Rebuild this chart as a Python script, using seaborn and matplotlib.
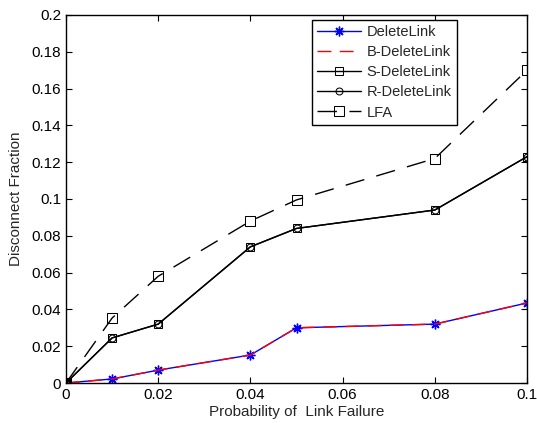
import numpy as np
import pandas as pd
import matplotlib
matplotlib.use("Agg")
import matplotlib.pyplot as plt
import seaborn as sns

x_vals = [0, 0.01, 0.02, 0.04, 0.05, 0.08, 0.1]
delete_link = [0, 0.0022, 0.007, 0.0152, 0.030, 0.032, 0.0435]
b_delete_link = [0, 0.0022, 0.007, 0.0152, 0.030, 0.032, 0.0435]
s_delete_link = [0, 0.0245, 0.032, 0.074, 0.084, 0.094, 0.123]
r_delete_link = [0, 0.0245, 0.032, 0.074, 0.084, 0.094, 0.123]
lfa = [0, 0.0353, 0.058, 0.088, 0.0995, 0.122, 0.170]

x_ticks = [0, 0.02, 0.04, 0.06, 0.08, 0.1]
x_tick_labels = ["0", "0.02", "0.04", "0.06", "0.08", "0.1"]
y_ticks = [0, 0.02, 0.04, 0.06, 0.08, 0.1, 0.12, 0.14, 0.16, 0.18, 0.2]
y_tick_labels = ["0", "0.02", "0.04", "0.06", "0.08", "0.1", "0.12", "0.14", "0.16", "0.18", "0.2"]

sns.set_style("ticks")
plt.rcParams['font.family'] = ['Liberation Sans', 'DejaVu Sans']

fig = plt.figure(figsize=(5.37, 4.23), dpi=100)
ax = fig.add_axes([66/537, 1-383/423, 461/537, 368/423])

styles = [
    ("DeleteLink", delete_link, dict(color="blue", marker=(8, 2, 0), markersize=7, linestyle="-", mfc="blue", mec="blue", mew=1.0)),
    ("B-DeleteLink", b_delete_link, dict(color="red", marker=None, linestyle=(0, (10, 6)))),
    ("S-DeleteLink", s_delete_link, dict(color="black", marker="s", markersize=6, linestyle="-", mfc="none", mec="black")),
    ("R-DeleteLink", r_delete_link, dict(color="black", marker="o", markersize=5, linestyle="-", mfc="none", mec="black")),
    ("LFA", lfa, dict(color="black", marker="s", markersize=6.5, linestyle=(0, (14, 9)), mfc="none", mec="black")),
]

for name, vals, st in styles:
    df = pd.DataFrame({"x": x_vals, "y": vals})
    sns.lineplot(data=df, x="x", y="y", ax=ax, label=name, linewidth=1.0, **st)

ax.set_xlim(0, 0.1)
ax.set_ylim(0, 0.2)
ax.set_xticks(x_ticks)
ax.set_xticklabels(x_tick_labels)
ax.set_yticks(y_ticks)
ax.set_yticklabels(y_tick_labels)
ax.tick_params(direction="in", top=True, right=True, labelsize=11, length=4, width=0.8, colors="black")
for sp in ax.spines.values():
    sp.set_visible(True)
    sp.set_color("black")
    sp.set_linewidth(1.0)
ax.set_xlabel("Probability of  Link Failure", fontsize=11, labelpad=2)
ax.set_ylabel("Disconnect Fraction", fontsize=11, labelpad=6)

leg = ax.legend(loc="upper left", bbox_to_anchor=((312-66)/461, (383-20)/368), fontsize=10.5,
                frameon=True, fancybox=False, edgecolor="black", framealpha=1,
                handlelength=3.0, borderpad=0.35, labelspacing=0.42, handletextpad=0.4,
                borderaxespad=0)
leg.get_frame().set_linewidth(1.0)

fig.savefig("out.png", dpi=100, facecolor="white")
